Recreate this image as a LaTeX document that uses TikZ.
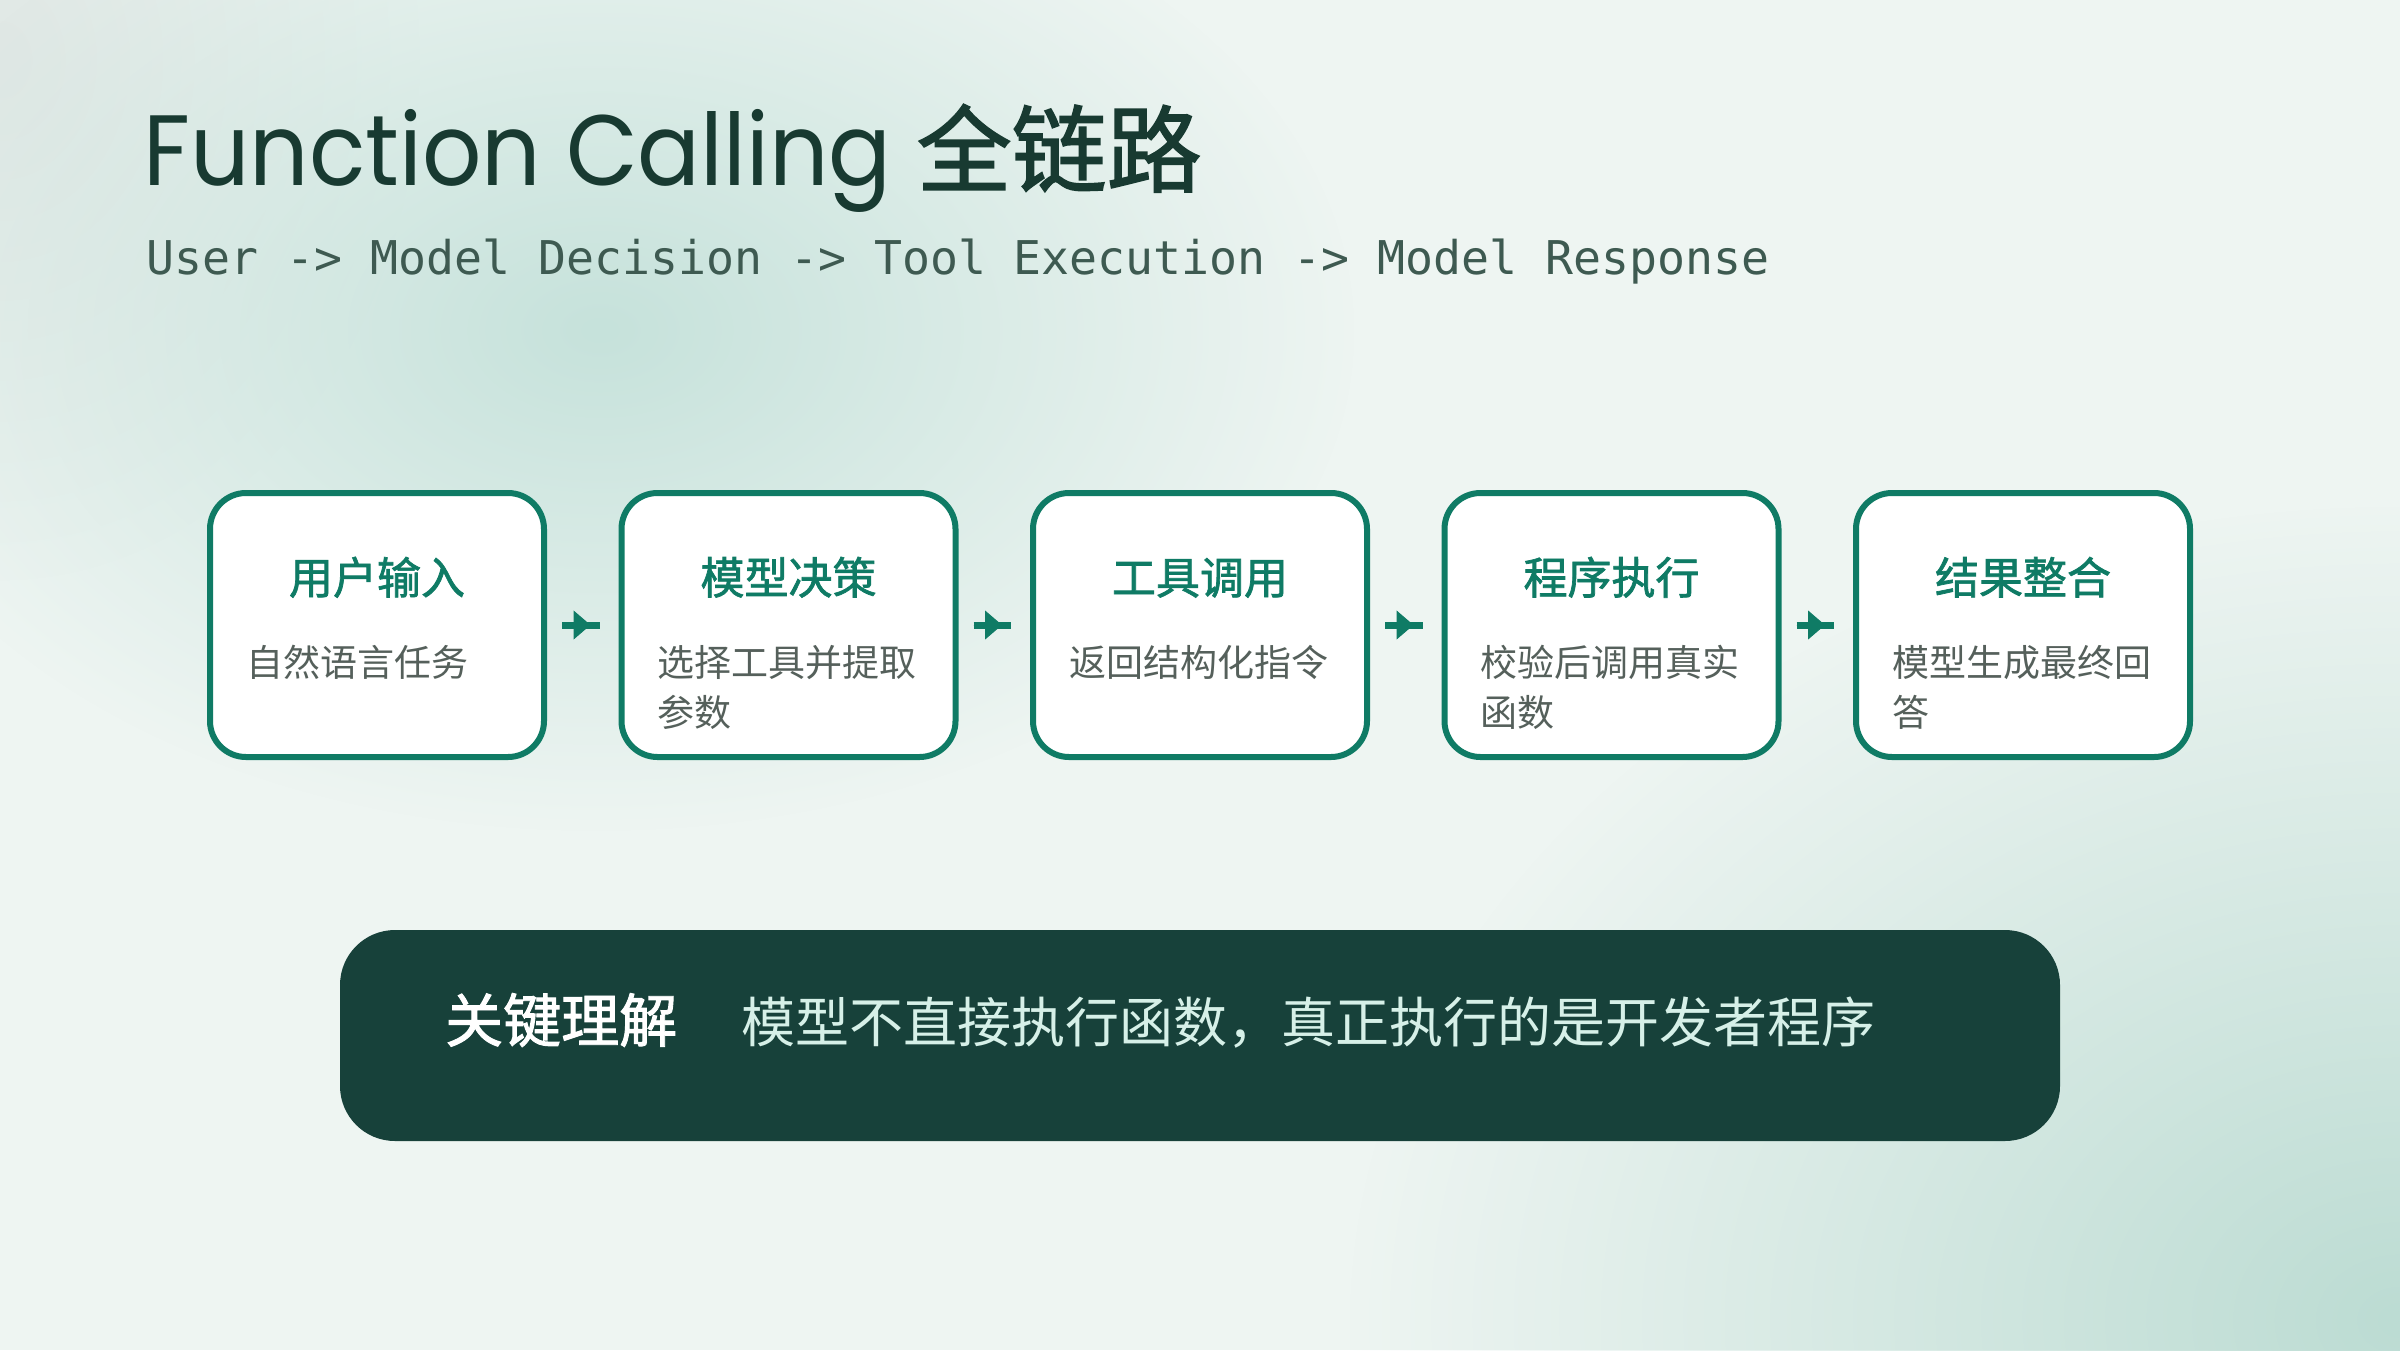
\documentclass[tikz,border=0pt]{standalone}
\usepackage{fontspec}
\usetikzlibrary{arrows.meta,calc,fadings}
\newfontfamily\cjk{Noto Sans CJK SC}
\newfontfamily\cjkmed[FakeBold=1.6]{Noto Sans CJK SC}
\newfontfamily\titlefont[FakeStretch=0.93]{Poppins}
\newfontfamily\monofont{DejaVu Sans Mono}
\definecolor{tealc}{HTML}{0F7B65}
\definecolor{titlec}{HTML}{183A31}
\definecolor{subc}{HTML}{3E5A51}
\definecolor{descc}{HTML}{55605B}
\definecolor{barc}{HTML}{17413A}
\definecolor{bartext}{HTML}{D6F0E8}
\definecolor{bgbase}{HTML}{EEF5F2}
\definecolor{blobA}{HTML}{C6E2DB}
\definecolor{blobB}{HTML}{BCDCD3}
\definecolor{blobC}{HTML}{E0E8E5}
\tikzfading[name=glow, inner color=transparent!0, outer color=transparent!100]
\tikzset{
  stepbox/.style={draw=tealc, line width=6pt, fill=white, rounded corners=36pt,
    minimum width=334pt, minimum height=264pt, inner sep=0pt, outer sep=0pt},
  steptitle/.style={anchor=base, inner sep=0pt, text=tealc,
    font=\cjkmed\fontsize{44}{50}\selectfont},
  stepdesc/.style={anchor=base west, inner sep=0pt, text=descc, text width=280pt, align=left,
    font=\cjk\fontsize{37}{50}\selectfont},
  flowstem/.style={draw=tealc, line width=7pt},
  flowhead/.style={draw=tealc, fill=tealc, line width=1pt, -{Triangle[length=17pt,width=29pt]}},
}
\begin{document}
\begin{tikzpicture}[x=1pt,y=-1pt]
\useasboundingbox (0,0) rectangle (2400,1350);
\fill[bgbase] (0,0) rectangle (2400,1350);
\fill[blobC, path fading=glow] (0,60) ellipse [x radius=420, y radius=520];
\fill[blobA, path fading=glow] (600,330) ellipse [x radius=760, y radius=500];
\fill[blobB, path fading=glow] (2400,1320) ellipse [x radius=1050, y radius=820];

\node[anchor=base west, inner sep=0pt, text=titlec] (title) at (143,185)
  {\fontsize{100}{110}\selectfont\titlefont Function Calling {\cjkmed\fontsize{95}{110}\selectfont 全链路}};
\node[anchor=base west, inner sep=0pt, text=subc] (subtitle) at (146,274)
  {\monofont\fontsize{46.5}{50}\selectfont User -> Model Decision -> Tool Execution -> Model Response};

\foreach \i/\cx/\t/\d in {1/377/用户输入/自然语言任务,
                          2/788.5/模型决策/选择工具并提取\\参数,
                          3/1200/工具调用/返回结构化指令,
                          4/1611.5/程序执行/校验后调用真实\\函数,
                          5/2023/结果整合/模型生成最终回\\答}{
  \node[stepbox] (b\i) at (\cx,625) {};
  \node[steptitle] (t\i) at ($(b\i.center)+(0,-31)$) {\t};
  \node[stepdesc] (d\i) at ($(b\i.west)+(36,51)$) {\d};
}
\foreach \a/\b in {1/2,2/3,3/4,4/5}{
  \draw[flowstem] ([xshift=18pt]b\a.east) -- ([xshift=-22pt]b\b.west);
  \draw[flowhead] ([xshift=18pt]b\a.east) -- ([xshift=-31pt]b\b.west);
}

\node[fill=barc, rounded corners=55pt, minimum width=1720pt, minimum height=211pt,
  inner sep=0pt, outer sep=0pt] (bar) at (1200,1035.5) {};
\node[anchor=base west, inner sep=0pt, text=white] (keylabel) at ($(bar.west)+(105,6.5)$)
  {\cjkmed\fontsize{58}{60}\selectfont 关键理解};
\node[anchor=base west, inner sep=0pt, text=bartext] (keytext) at ($(bar.west)+(401,6.5)$)
  {\cjk\fontsize{54}{60}\selectfont 模型不直接执行函数，真正执行的是开发者程序};
\end{tikzpicture}
\end{document}
